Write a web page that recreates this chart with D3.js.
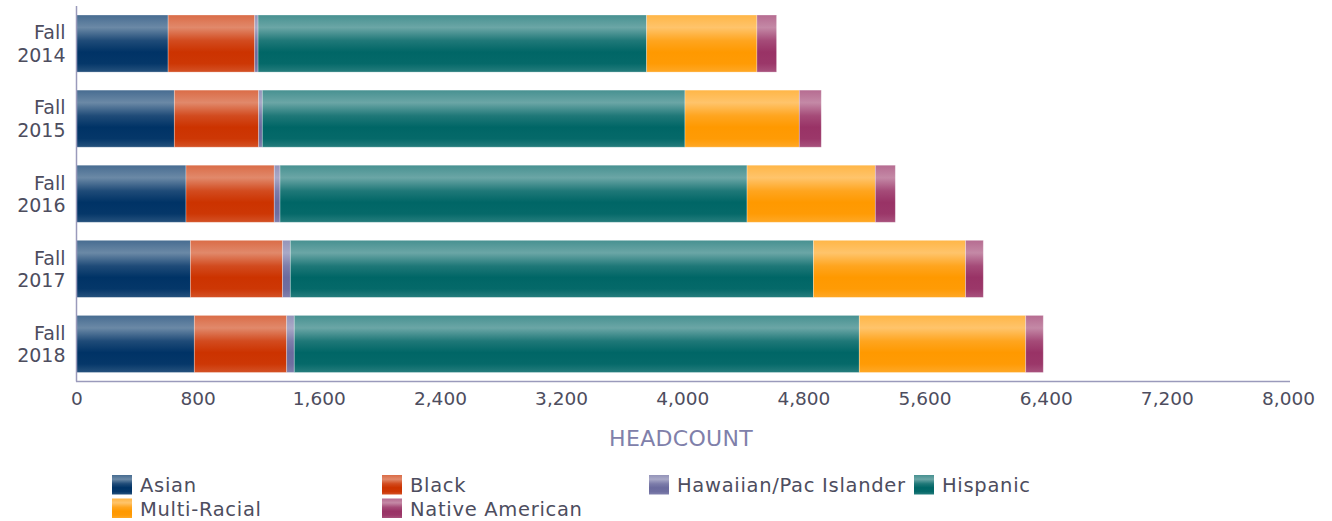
<!DOCTYPE html>
<html>
<head>
<meta charset="utf-8">
<script src="https://cdn.jsdelivr.net/npm/d3@7"></script>
<style>
  html, body { margin: 0; padding: 0; background: #ffffff; }
  svg { display: block; font-family: "DejaVu Sans", sans-serif; }
</style>
</head>
<body>
<svg id="chart" width="1332" height="521"></svg>
<script>
// ---- data ----
const categories = ["Fall 2014", "Fall 2015", "Fall 2016", "Fall 2017", "Fall 2018"];
const seriesNames = ["Asian", "Black", "Hawaiian/Pac Islander", "Hispanic", "Multi-Racial", "Native American"];
const asian    = [605, 646, 723, 752, 778];
const black    = [572, 557, 583, 609, 610];
const hawaiian = [22, 24, 38, 51, 50];
const hispanic = [2566, 2791, 3084, 3454, 3731];
const multi    = [728, 755, 847, 1005, 1099];
const native   = [130, 145, 132, 117, 116];
const tickValues = [0, 800, 1600, 2400, 3200, 4000, 4800, 5600, 6400, 7200, 8000];
const axisTitle = "HEADCOUNT";

const seriesColors = ["#003366", "#cc3300", "#6b6b9e", "#006666", "#ff9900", "#993366"];
const seriesValues = [asian, black, hawaiian, hispanic, multi, native];

const rows = categories.map((c, i) => {
  const r = { cat: c };
  seriesNames.forEach((s, j) => r[s] = seriesValues[j][i]);
  return r;
});

const svg = d3.select("#chart");
const defs = svg.append("defs");

// gradients
function mix(c, t) { return d3.interpolateRgb(c, "#ffffff")(t); }
seriesColors.forEach((c, i) => {
  const g = defs.append("linearGradient").attr("id", "g" + i)
    .attr("x1", 0).attr("y1", 0).attr("x2", 0).attr("y2", 1);
  [[0, 0.28], [0.22, 0.42], [0.45, 0.12], [0.65, 0], [0.85, 0.02], [1, 0.15]].forEach(([o, t]) => {
    g.append("stop").attr("offset", o).attr("stop-color", mix(c, t));
  });
});

const x = d3.scaleLinear().domain([0, 8000]).range([76.5, 1288]);
const y = d3.scaleBand().domain(categories).range([6, 381.5]).paddingInner(0.24).paddingOuter(0.12);

const stack = d3.stack().keys(seriesNames);
const stacked = stack(rows);

const gBars = svg.append("g");
stacked.forEach((layer, i) => {
  gBars.selectAll(null).data(layer).enter().append("rect")
    .attr("x", d => x(d[0]))
    .attr("y", d => y(d.data.cat))
    .attr("width", d => x(d[1]) - x(d[0]))
    .attr("height", y.bandwidth())
    .attr("fill", "url(#g" + i + ")")
    .attr("stroke", "rgba(255,255,255,0.35)")
    .attr("stroke-width", 0.8);
});

// axes lines
const axisColor = "#9a9abb";
svg.append("line").attr("x1", 76.5).attr("x2", 76.5).attr("y1", 6).attr("y2", 381.5)
  .attr("stroke", axisColor).attr("stroke-width", 1.5);
svg.append("line").attr("x1", 76).attr("x2", 1290).attr("y1", 381.5).attr("y2", 381.5)
  .attr("stroke", axisColor).attr("stroke-width", 1.5);

// x axis via d3.axisBottom
const xAxis = d3.axisBottom(x).tickValues(tickValues).tickFormat(d3.format(",")).tickSize(0).tickPadding(10);
const gx = svg.append("g").attr("transform", "translate(0,381.5)").call(xAxis);
gx.select(".domain").remove();
gx.selectAll("text").attr("font-size", 18.5).attr("fill", "#4d4d5e").attr("font-family", "DejaVu Sans");

// y category labels
const yAxis = d3.axisLeft(y).tickSize(0).tickPadding(11);
const gy = svg.append("g").attr("transform", "translate(76.5,0)").call(yAxis);
gy.select(".domain").remove();
gy.selectAll("text").each(function(d) {
  const t = d3.select(this);
  const parts = d.split(" ");
  t.text(null).attr("font-size", 19).attr("fill", "#4d4d5e").attr("font-family", "DejaVu Sans").attr("dy", null);
  t.append("tspan").attr("x", -11).attr("dy", "-0.22em").text(parts[0]);
  t.append("tspan").attr("x", -11).attr("dy", "1.18em").text(parts[1]);
});

// axis title
svg.append("text").attr("x", 681).attr("y", 446).attr("text-anchor", "middle")
  .attr("font-size", 22).attr("letter-spacing", 0.3).attr("fill", "#8080aa").text(axisTitle);

// legend
const legendPos = [[112, 475], [382, 475], [649, 475], [914, 475], [112, 498.5], [382, 498.5]];
const lg = svg.append("g");
seriesNames.forEach((s, i) => {
  const [lx, ly] = legendPos[i];
  lg.append("rect").attr("x", lx).attr("y", ly).attr("width", 20).attr("height", 19.5)
    .attr("fill", "url(#g" + i + ")");
  lg.append("text").attr("x", lx + 28).attr("y", ly + 17).attr("font-size", 19.5)
    .attr("letter-spacing", 0.7).attr("fill", "#4d4d5e").text(s);
});
</script>
</body>
</html>
